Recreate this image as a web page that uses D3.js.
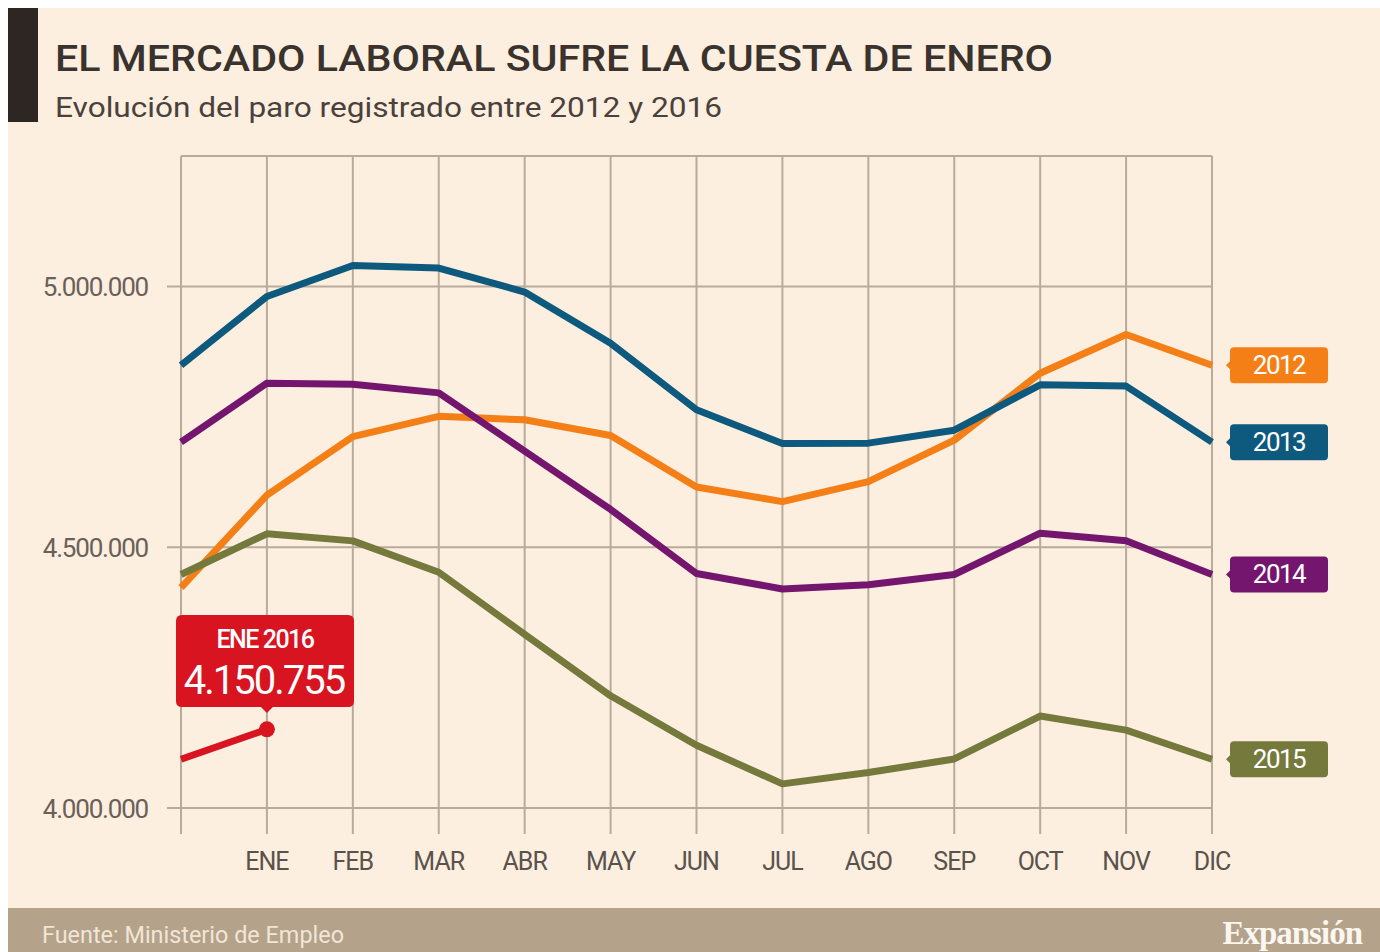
<!DOCTYPE html>
<html>
<head>
<meta charset="utf-8">
<script src="https://cdn.jsdelivr.net/npm/d3@7"></script>
<style>
  body { margin: 0; background: #fff; }
  svg { display: block; }
</style>
</head>
<body>
<svg id="chart" width="1380" height="952"></svg>
<script>
// months: first slot is December of the previous year
const months = ['', 'ENE', 'FEB', 'MAR', 'ABR', 'MAY', 'JUN', 'JUL', 'AGO', 'SEP', 'OCT', 'NOV', 'DIC'];
const yTicks = [4000000, 4500000, 5000000];

const years = ['2012', '2013', '2014', '2015', '2016'];
const colors = ['#f57f17', '#0e5a7e', '#74166e', '#757a3c', '#d7141f'];

const paro2012 = [4422359, 4599829, 4712098, 4750867, 4744235, 4714122, 4615269, 4587455, 4625634, 4705279, 4833521, 4907817, 4848723];
const paro2013 = [4848723, 4980778, 5040222, 5035243, 4989193, 4890928, 4763680, 4698814, 4699515, 4724355, 4811383, 4808908, 4701338];
const paro2014 = [4701338, 4814435, 4812486, 4795866, 4684301, 4572385, 4449701, 4419860, 4427930, 4447650, 4526804, 4512153, 4447711];
const paro2015 = [4447711, 4525691, 4512116, 4451939, 4333016, 4215031, 4120304, 4046276, 4067955, 4094042, 4176369, 4149298, 4093508];
const paro2016 = [4093508, 4150755];
const series = [paro2012, paro2013, paro2014, paro2015, paro2016];

const fmt = d3.formatLocale({ decimal: ',', thousands: '.', grouping: [3], currency: ['', '€'] }).format(',d');

const svg = d3.select('#chart');
const font = 'Roboto, "Liberation Sans", sans-serif';

// background
svg.append('rect').attr('x', 8).attr('y', 8).attr('width', 1372).attr('height', 900).attr('fill', '#fcefe0');
svg.append('rect').attr('x', 8).attr('y', 8).attr('width', 30).attr('height', 114).attr('fill', '#2e2622');
svg.append('rect').attr('x', 8).attr('y', 908).attr('width', 1372).attr('height', 44).attr('fill', '#b4a28b');

svg.append('text').attr('x', 55).attr('y', 71)
  .attr('font-family', font).attr('font-size', 36).attr('font-weight', 500).attr('fill', '#3a322d')
  .attr('textLength', 998).attr('lengthAdjust', 'spacingAndGlyphs')
  .text('EL MERCADO LABORAL SUFRE LA CUESTA DE ENERO');
svg.append('text').attr('x', 55).attr('y', 117)
  .attr('font-family', font).attr('font-size', 28).attr('fill', '#4a413b')
  .attr('textLength', 667).attr('lengthAdjust', 'spacingAndGlyphs')
  .text('Evolución del paro registrado entre 2012 y 2016');

const x = d3.scalePoint().domain(d3.range(months.length)).range([181, 1212]);
const y = d3.scaleLinear().domain([4000000, 5250000]).range([808, 156]);

const grid = svg.append('g').attr('stroke', '#b9ab99').attr('stroke-width', 2);
grid.selectAll('.v').data(d3.range(months.length)).join('line')
  .attr('x1', d => x(d)).attr('x2', d => x(d)).attr('y1', y(5250000)).attr('y2', 834);
grid.selectAll('.h').data(yTicks).join('line')
  .attr('x1', 167).attr('x2', 1212).attr('y1', d => y(d)).attr('y2', d => y(d));
grid.append('line').attr('x1', 181).attr('x2', 1212).attr('y1', y(5250000)).attr('y2', y(5250000));

svg.selectAll('.ytick').data(yTicks).join('text')
  .attr('x', 148).attr('y', d => y(d) + 10).attr('text-anchor', 'end')
  .attr('font-family', font).attr('font-size', 26).attr('fill', '#6b6058')
  .attr('letter-spacing', -1.2)
  .text(d => fmt(d));

svg.selectAll('.xtick').data(months).join('text')
  .attr('x', (d, i) => x(i)).attr('y', 870).attr('text-anchor', 'middle')
  .attr('font-family', font).attr('font-size', 25).attr('fill', '#5b524c')
  .attr('letter-spacing', -1)
  .text(d => d);

const line = d3.line().x((d, i) => x(i)).y(d => y(d));
svg.selectAll('.serie').data(series).join('path')
  .attr('d', d => line(d)).attr('fill', 'none')
  .attr('stroke', (d, i) => colors[i]).attr('stroke-width', 7)
  .attr('stroke-linejoin', 'round');

// year labels at the right
const labels = svg.selectAll('.lab').data(series.slice(0, 4)).join('g')
  .attr('transform', d => `translate(1230,${y(d[d.length - 1])})`);
labels.append('path')
  .attr('d', 'M4,-18 H94 Q98,-18 98,-14 V14 Q98,18 94,18 H4 Q0,18 0,14 V4 L-4,0 L0,-4 V-14 Q0,-18 4,-18 Z')
  .attr('fill', (d, i) => colors[i]);
labels.append('text').attr('x', 49).attr('y', 9).attr('text-anchor', 'middle')
  .attr('font-family', font).attr('font-size', 26).attr('fill', '#fff')
  .attr('letter-spacing', -1.5)
  .text((d, i) => years[i]);

// callout for January 2016
const last = paro2016[1];
const cx = x(1), cy = y(last);
svg.append('circle').attr('cx', cx).attr('cy', cy).attr('r', 8).attr('fill', colors[4]);
const call = svg.append('g');
call.append('path')
  .attr('d', `M182,615 H348 Q354,615 354,621 V701 Q354,707 348,707 H${cx + 6} L${cx},713 L${cx - 6},707 H182 Q176,707 176,701 V621 Q176,615 182,615 Z`)
  .attr('fill', colors[4]);
call.append('text').attr('x', 265).attr('y', 648).attr('text-anchor', 'middle')
  .attr('font-family', font).attr('font-size', 25).attr('font-weight', 500).attr('fill', '#fff')
  .attr('letter-spacing', -1.5)
  .text('ENE 2016');
call.append('text').attr('x', 264).attr('y', 694).attr('text-anchor', 'middle')
  .attr('font-family', font).attr('font-size', 40).attr('fill', '#fff')
  .attr('letter-spacing', -2)
  .text(fmt(last));

// footer
svg.append('text').attr('x', 42).attr('y', 943)
  .attr('font-family', font).attr('font-size', 23).attr('fill', '#f1e6d6')
  .attr('textLength', 302).attr('lengthAdjust', 'spacingAndGlyphs')
  .text('Fuente: Ministerio de Empleo');
svg.append('text').attr('x', 1362).attr('y', 944).attr('text-anchor', 'end')
  .attr('font-family', '"Liberation Serif", "DejaVu Serif", serif').attr('font-size', 33)
  .attr('font-weight', 'bold').attr('fill', '#fbf6ee').attr('letter-spacing', -1)
  .text('Expansión');
</script>
</body>
</html>
